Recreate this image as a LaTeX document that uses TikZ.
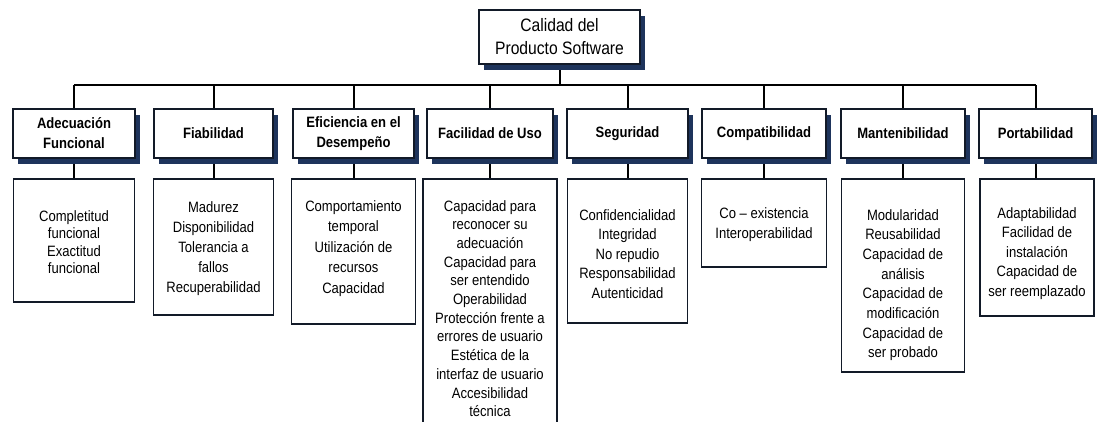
\documentclass[tikz,border=0pt]{standalone}
\usepackage{fontspec}
\setmainfont{Liberation Sans}[FakeStretch=0.87]
\usetikzlibrary{shadows,backgrounds}
\definecolor{bordc}{RGB}{18,26,40}
\definecolor{shadc}{RGB}{30,52,92}
\tikzset{
  shad/.style={drop shadow={shadow xshift=5pt, shadow yshift=-6pt, fill=shadc, opacity=1}},
  topbox/.style={shad, draw=bordc, line width=1.6pt, fill=white, minimum width=161pt, minimum height=54pt, inner sep=0pt, align=center, font=\fontsize{18}{23}\selectfont},
  headbox/.style={shad, draw=bordc, line width=1.6pt, fill=white, minimum height=49pt, inner sep=0pt, align=center, font=\bfseries\fontsize{15}{20}\selectfont},
  itembox/.style={draw=bordc, line width=1.6pt, fill=white, inner sep=0pt},
  itemtext/.style={anchor=north, inner sep=0pt, align=center},
  link/.style={draw=black, line width=2pt},
}
\begin{document}
\begin{tikzpicture}[x=1pt,y=-1pt]
\useasboundingbox (0,0) rectangle (1099,421);
\node[topbox] (top) at (559.5,37) {Calidad del\\Producto Software};
% headers
\node[headbox, minimum width=122pt] (h1) at (74,133.5) {Adecuación\\Funcional};
\node[headbox, minimum width=119pt] (h2) at (213.5,133.5) {Fiabilidad};
\node[headbox, minimum width=121pt] (h3) at (353.5,133.5) {Eficiencia en el\\Desempeño};
\node[headbox, minimum width=126pt] (h4) at (490,133.5) {Facilidad de Uso};
\node[headbox, minimum width=121pt] (h5) at (627.5,133.5) {Seguridad};
\node[headbox, minimum width=124pt] (h6) at (764,133.5) {Compatibilidad};
\node[headbox, minimum width=124pt] (h7) at (903,133.5) {Mantenibilidad};
\node[headbox, minimum width=113pt] (h8) at (1035.5,133.5) {Portabilidad};
% item boxes
\node[itembox, minimum width=121pt, minimum height=123pt] (b1) at (74,240.5) {};
\node[itembox, minimum width=120pt, minimum height=136pt] (b2) at (213.5,247) {};
\node[itembox, minimum width=124pt, minimum height=145pt] (b3) at (353.5,251.5) {};
\node[itembox, minimum width=134pt, minimum height=251pt] (b4) at (490,304.5) {};
\node[itembox, minimum width=120pt, minimum height=144pt] (b5) at (627.5,251) {};
\node[itembox, minimum width=125pt, minimum height=88pt] (b6) at (764,223) {};
\node[itembox, minimum width=123pt, minimum height=193pt] (b7) at (903,275.5) {};
\node[itembox, minimum width=114pt, minimum height=137pt] (b8) at (1037,247.5) {};
% item texts
\node[itemtext, font=\fontsize{15}{17.5}\selectfont] (t1) at (74,210) {Completitud\\funcional\\Exactitud\\funcional};
\node[itemtext, font=\fontsize{15}{20}\selectfont] (t2) at (213.5,201) {Madurez\\Disponibilidad\\Tolerancia a\\fallos\\Recuperabilidad};
\node[itemtext, font=\fontsize{15}{20.5}\selectfont] (t3) at (353.5,200) {Comportamiento\\temporal\\Utilización de\\recursos\\Capacidad};
\node[itemtext, font=\fontsize{15}{18.7}\selectfont] (t4) at (490,200) {Capacidad para\\reconocer su\\adecuación\\Capacidad para\\ser entendido\\Operabilidad\\Protección frente a\\errores de usuario\\Estética de la\\interfaz de usuario\\Accesibilidad\\técnica};
\node[itemtext, font=\fontsize{15}{19.6}\selectfont] (t5) at (627.5,209) {Confidencialidad\\Integridad\\No repudio\\Responsabilidad\\Autenticidad};
\node[itemtext, font=\fontsize{15}{20}\selectfont] (t6) at (764,207) {Co – existencia\\Interoperabilidad};
\node[itemtext, font=\fontsize{15}{19.7}\selectfont] (t7) at (903,209) {Modularidad\\Reusabilidad\\Capacidad de\\análisis\\Capacidad de\\modificación\\Capacidad de\\ser probado};
\node[itemtext, font=\fontsize{15}{19.5}\selectfont] (t8) at (1037,207) {Adaptabilidad\\Facilidad de\\instalación\\Capacidad de\\ser reemplazado};
% connectors
\begin{pgfonlayer}{background}
\fill[white] (0,0) rectangle (1099,421);
\coordinate (bus) at (0,85);
\draw[link] (top.south) -- (top.south |- bus);
\draw[link] (h1.north |- bus) -- (h8.north |- bus);
\foreach \i in {1,...,8} {
  \draw[link] (h\i.north) -- (h\i.north |- bus);
  \draw[link] (h\i.south) -- (h\i.south |- b\i.north);
}
\end{pgfonlayer}
\end{tikzpicture}
\end{document}
